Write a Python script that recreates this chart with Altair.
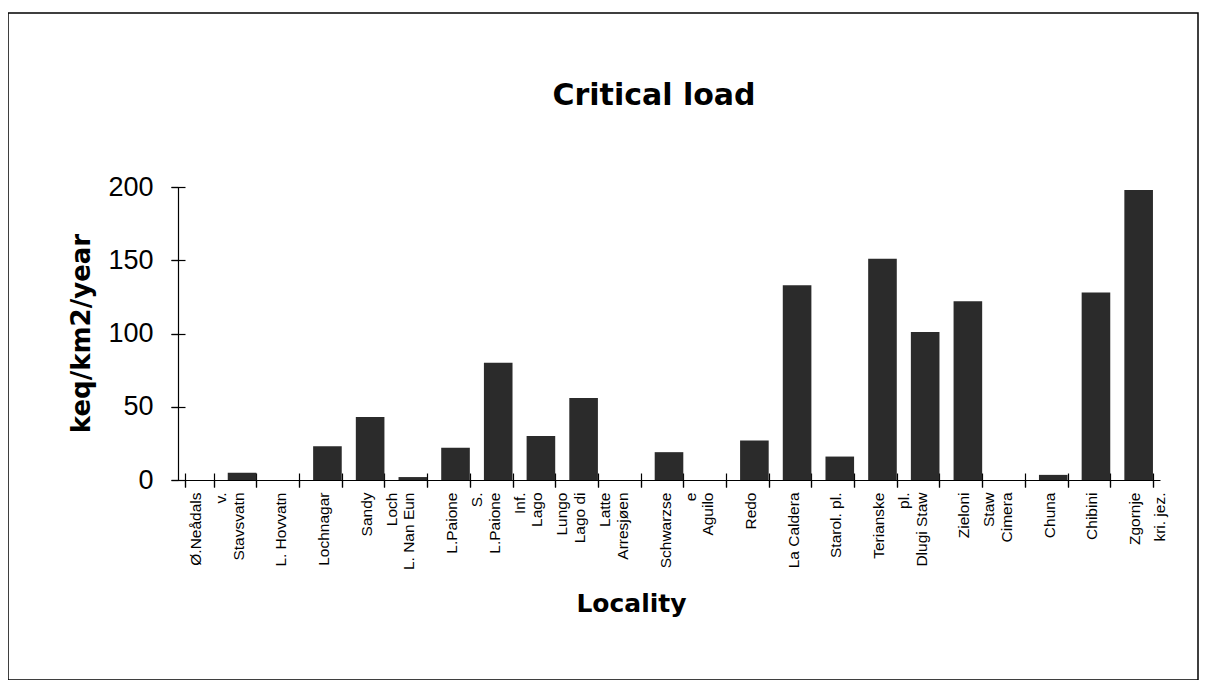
import altair as alt
import pandas as pd

# Category labels (line breaks as in the original axis labels)
localities = [
    "Ø.Neådals\nv.", "Stavsvatn", "L. Hovvatn", "Lochnagar", "Sandy\nLoch",
    "L. Nan Eun", "L.Paione\nS.", "L.Paione\nInf.", "Lago\nLungo", "Lago di\nLatte",
    "Arresjøen", "Schwarzse\ne", "Aguilo", "Redo", "La Caldera",
    "Starol. pl.", "Terianske\npl.", "Dlugi Staw", "Zieloni\nStaw", "Cimera",
    "Chuna", "Chibini", "Zgornje\nkri. jez.",
]
# Critical load, keq/km2/year
critical_load = [
    0, 5, 0, 23, 43,
    2, 22, 80, 30, 56,
    0, 19, 0, 27, 133,
    16, 151, 101, 122, 0,
    3.5, 128, 198,
]
y_ticks = [0, 50, 100, 150, 200]

df = pd.DataFrame({"Locality": localities, "load": critical_load})

x_scale = alt.Scale(paddingInner=0.33, paddingOuter=0.165)
y_scale = alt.Scale(domain=[0, 200], nice=False)

bars = alt.Chart(df).mark_bar(color="#2b2b2b").encode(
    x=alt.X(
        "Locality:N", sort=localities, scale=x_scale,
        axis=alt.Axis(
            orient="bottom", title="Locality",
            labelExpr="split(datum.label, '\\n')",
            labelAngle=270, labelFont="Liberation Sans", labelFontSize=15.5,
            labelLineHeight=25, labelPadding=5, labelOffset=-4,
            labelOverlap=False, labelLimit=300,
            tickSize=7, tickBand="extent",
            titleFont="DejaVu Sans", titleFontWeight="bold", titleFontSize=25,
            titleX=453, titleY=123, titleAlign="center", titleBaseline="middle",
        ),
    ),
    y=alt.Y(
        "load:Q", scale=y_scale,
        axis=alt.Axis(
            orient="left", title="keq/km2/year", values=y_ticks, grid=False,
            tickSize=7, labelPadding=18,
            labelFont="Liberation Sans", labelFontSize=27,
            titleFont="DejaVu Sans", titleFontWeight="bold", titleFontSize=26,
            titleAngle=270, titleX=-97, titleY=146,
            titleAlign="center", titleBaseline="middle",
        ),
    ),
)

# second set of ticks to make them cross the axis lines
cross = alt.Chart(df).mark_bar(opacity=0).encode(
    x=alt.X(
        "Locality:N", sort=localities, scale=x_scale,
        axis=alt.Axis(orient="bottom", offset=-7, tickSize=14, labels=False,
                      domain=False, title=None, tickBand="extent"),
    ),
    y=alt.Y(
        "load:Q", scale=y_scale,
        axis=alt.Axis(orient="left", offset=-7, tickSize=14, labels=False,
                      domain=False, title=None, values=y_ticks, grid=False),
    ),
)

frame = alt.Chart(pd.DataFrame({"f": [0]})).mark_rect(
    fill="transparent", stroke="black", strokeWidth=1.5
).encode(
    x=alt.value(-170), x2=alt.value(1020), y=alt.value(-174), y2=alt.value(493)
)

chart = alt.layer(frame, bars, cross).resolve_axis(
    x="independent", y="independent"
).properties(
    width=982, height=293,
    padding={"left": 170, "top": 179, "right": 40, "bottom": 200},
    autosize=alt.AutoSizeParams(type="none"),
    title=alt.TitleParams(
        "Critical load", font="DejaVu Sans", fontWeight="bold", fontSize=30,
        offset=-123, baseline="alphabetic", dx=-15, color="black",
    ),
    background="white",
).configure_view(stroke=None).configure_axis(
    domainColor="black", tickColor="black", labelColor="black",
    titleColor="black", domainWidth=1.2, tickWidth=1.2,
)

chart.save("out.html", embed_options={"renderer": "svg", "actions": False})
